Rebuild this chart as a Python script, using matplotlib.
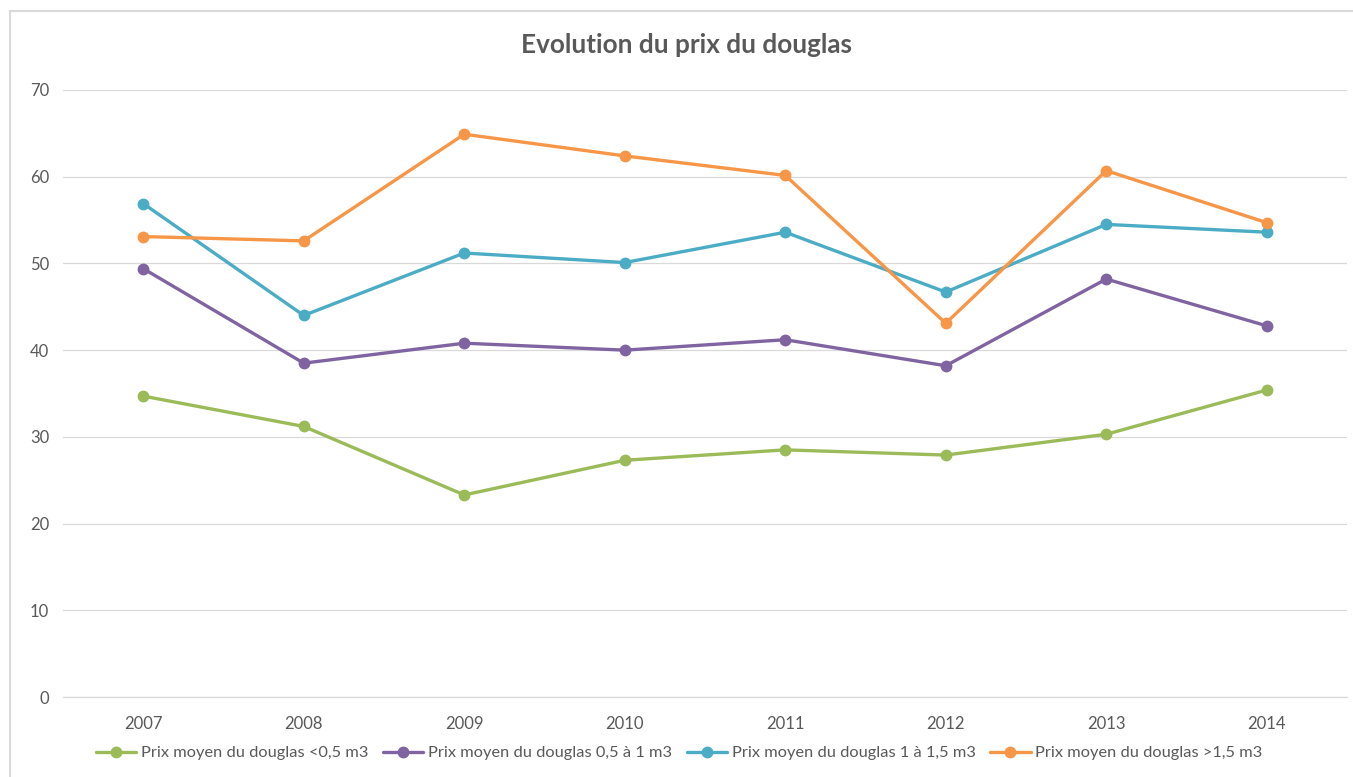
import matplotlib
matplotlib.use('Agg')
import matplotlib.pyplot as plt
from matplotlib.patches import Rectangle

plt.rcParams['font.family'] = ['Lato', 'DejaVu Sans']

# données
annees = ['2007', '2008', '2009', '2010', '2011', '2012', '2013', '2014']
prix_moins_05 = [34.7, 31.2, 23.3, 27.3, 28.5, 27.9, 30.3, 35.4]
prix_05_1 = [49.4, 38.5, 40.8, 40.0, 41.2, 38.2, 48.2, 42.8]
prix_1_15 = [56.9, 44.0, 51.2, 50.1, 53.6, 46.7, 54.5, 53.6]
prix_plus_15 = [53.1, 52.6, 64.9, 62.4, 60.15, 43.1, 60.7, 54.7]

series = [
    ('Prix moyen du douglas <0,5 m3', prix_moins_05, '#9BBB59'),
    ('Prix moyen du douglas 0,5 à 1 m3', prix_05_1, '#8064A2'),
    ('Prix moyen du douglas 1 à 1,5 m3', prix_1_15, '#4BACC6'),
    ('Prix moyen du douglas >1,5 m3', prix_plus_15, '#F79646'),
]

W, H = 1353, 777
fig = plt.figure(figsize=(W / 100, H / 100), dpi=100)
fig.patch.set_facecolor('white')

# cadre du graphique (bords droit/bas hors image)
fig.patches.append(Rectangle((10 / W, -0.01), 1.01 - 10 / W, 1 - 11 / H + 0.01,
                             transform=fig.transFigure, fill=False,
                             edgecolor='#D9D9D9', linewidth=1.5))

ax = fig.add_axes([63 / W, 1 - 697 / H, (1347 - 63) / W, (697 - 90) / H])
x = list(range(len(annees)))
for label, vals, color in series:
    ax.plot(x, vals, color=color, linewidth=2.4, marker='o', markersize=7.5,
            label=label, solid_capstyle='round', zorder=3)

ax.set_xlim(-0.5, len(annees) - 0.5)
ax.set_ylim(0, 70)
ax.set_yticks(range(0, 71, 10))
ax.set_xticks(x)
ax.set_xticklabels(annees)
ax.tick_params(axis='both', length=0, colors='#595959', labelsize=12)
ax.tick_params(axis='x', pad=14)
ax.tick_params(axis='y', pad=10)
ax.grid(axis='y', color='#D9D9D9', linewidth=0.9)
ax.set_axisbelow(True)
for s in ['top', 'right', 'left']:
    ax.spines[s].set_visible(False)
ax.spines['bottom'].set_color('#D9D9D9')
ax.spines['bottom'].set_linewidth(0.9)

fig.text(686 / W, 1 - 45 / H, 'Evolution du prix du douglas', ha='center', va='center',
         fontsize=18.8, fontweight='bold', color='#595959')

fig.legend(loc='center', bbox_to_anchor=(0.502, 1 - 753 / H), ncol=4, frameon=False,
           fontsize=11.8, labelcolor='#595959', handlelength=2.45, handletextpad=0.3,
           columnspacing=0.9)

fig.savefig('out.png', dpi=100, facecolor='white')
